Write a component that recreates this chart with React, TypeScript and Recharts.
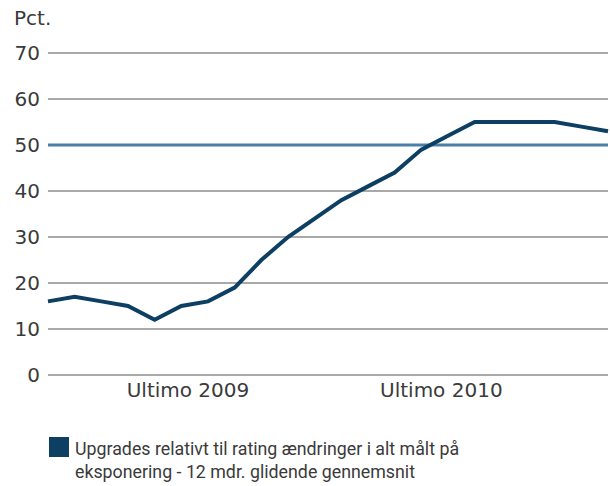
import { LineChart, Line, XAxis, YAxis, CartesianGrid, ReferenceLine } from "recharts";

// 12 mdr. glidende gennemsnit, one point per period
const periods = [0, 1, 2, 3, 4, 5, 6, 7, 8, 9, 10, 11, 12, 13, 14, 15, 16, 17, 18, 19, 20, 21];
const upgrades = [16, 17, 16, 15, 12, 15, 16, 19, 25, 30, 34, 38, 41, 44, 49, 52, 55, 55, 55, 55, 54, 53];

const xTickPositions = [5.25, 14.75];
const xTickLabels = ["Ultimo 2009", "Ultimo 2010"];
const yTicks = [0, 10, 20, 30, 40, 50, 60, 70];

const data = periods.map((p, i) => ({ p, value: upgrades[i] }));

const axisFont = "'DejaVu Sans', sans-serif";
const legendFont = "Roboto, sans-serif";
const textColor = "#3a3a3a";

export default function App() {
  return (
    <div style={{ position: "absolute", left: 0, top: 0, width: 610, height: 486, background: "#fff" }}>
      <div style={{ position: "absolute", left: 14, top: 6, fontSize: 20, fontFamily: axisFont, color: textColor }}>Pct.</div>
      <LineChart width={610} height={410} data={data} margin={{ top: 53, right: 2, bottom: 0, left: 0 }}>
        <CartesianGrid vertical={false} stroke="#8c8c8c" strokeWidth={1.5} />
        <XAxis
          dataKey="p"
          type="number"
          domain={[0, 21]}
          ticks={xTickPositions}
          tickFormatter={(v: number) => xTickLabels[xTickPositions.indexOf(v)] ?? ""}
          axisLine={false}
          tickLine={false}
          height={35}
          tick={{ fill: textColor, fontSize: 20, fontFamily: axisFont }}
        />
        <YAxis
          domain={[0, 70]}
          ticks={yTicks}
          axisLine={false}
          tickLine={false}
          width={48}
          tick={{ fill: textColor, fontSize: 20, fontFamily: axisFont }}
        />
        <ReferenceLine y={50} stroke="#4a80a8" strokeWidth={3} />
        <Line
          dataKey="value"
          stroke="#0c3f62"
          strokeWidth={4}
          dot={false}
          type="linear"
          isAnimationActive={false}
        />
      </LineChart>
      <div style={{ position: "absolute", left: 49, top: 437, width: 560, fontSize: 17.8, fontFamily: legendFont, lineHeight: "23px", color: textColor }}>
        <span style={{ position: "absolute", left: 0, top: 0, width: 20, height: 20, background: "#0c3f62" }} />
        <div style={{ marginLeft: 26 }}>
          Upgrades relativt til rating ændringer i alt målt på
          <br />
          eksponering - 12 mdr. glidende gennemsnit
        </div>
      </div>
    </div>
  );
}
